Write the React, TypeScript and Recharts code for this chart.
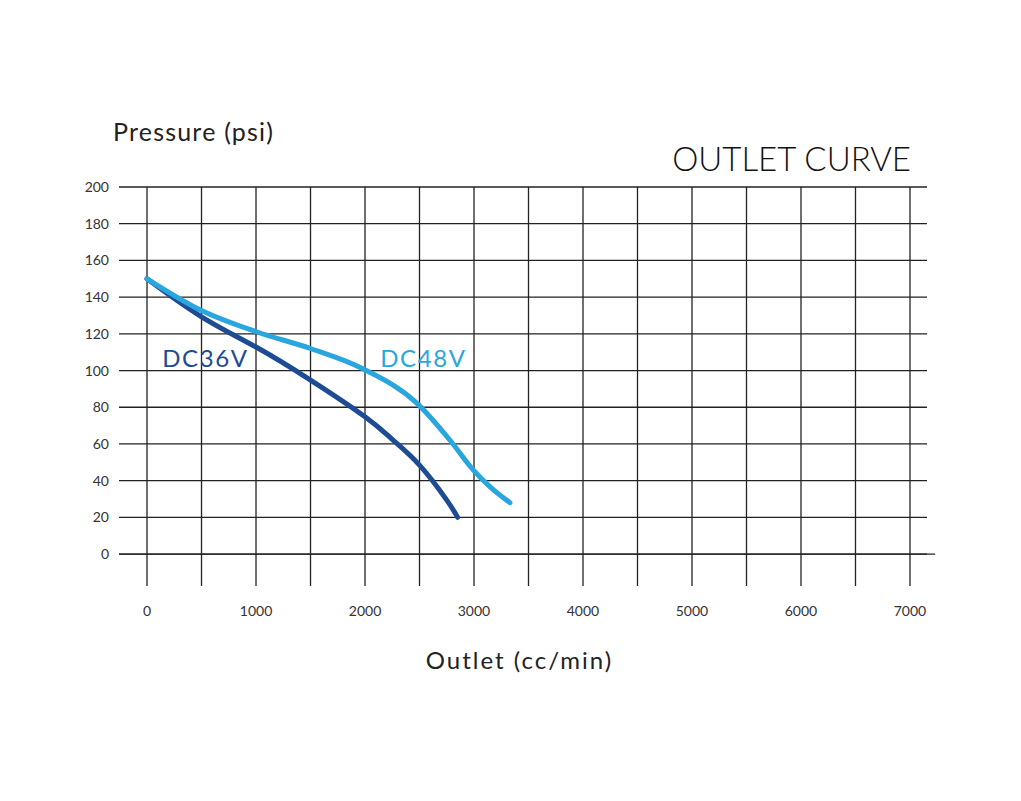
import { LineChart, Line, XAxis, YAxis, CartesianGrid, ReferenceLine, ReferenceDot } from 'recharts';

// outlet (cc/min) vs pressure (psi)
const dc36Outlet = [0, 500, 1000, 1500, 2000, 2250, 2500, 2750, 2850];
const dc36Pressure = [150, 129.3, 112.8, 94.8, 74.8, 62.5, 48.5, 29.4, 20];
const dc48Outlet = [0, 490, 1010, 1500, 1980, 2480, 2780, 2990, 3150, 3330];
const dc48Pressure = [150, 133, 121, 112, 101, 82, 62, 46, 36.5, 28];

const xTicks = [0, 500, 1000, 1500, 2000, 2500, 3000, 3500, 4000, 4500, 5000, 5500, 6000, 6500, 7000];
const yTicks = [0, 20, 40, 60, 80, 100, 120, 140, 160, 180, 200];

const dc36 = dc36Outlet.map((x, i) => ({ x, p: dc36Pressure[i] }));
const dc48 = dc48Outlet.map((x, i) => ({ x, p: dc48Pressure[i] }));

const FONT = '"Lato", "Open Sans", sans-serif';
const DARK = '#1d4b94';
const LIGHT = '#2aa6df';

function SeriesLabel({ viewBox, text, color }: any) {
  const x = viewBox?.x ?? 0;
  const y = viewBox?.y ?? 0;
  return (
    <text x={x} y={y} fill={color} fontSize={24} letterSpacing={1.6} fontFamily={FONT} dominantBaseline="middle">
      {text}
    </text>
  );
}

export default function App() {
  return (
    <div style={{ position: 'absolute', left: 0, top: 0, width: 1021, height: 801, background: '#fff', fontFamily: FONT }}>
      <div style={{ position: 'absolute', left: 113, top: 116, fontSize: 25, letterSpacing: 1.2, color: '#222', whiteSpace: 'nowrap' }}>
        Pressure (psi)
      </div>
      <div style={{ position: 'absolute', right: 110, top: 138, fontSize: 33, fontWeight: 300, color: '#111', whiteSpace: 'nowrap' }}>
        OUTLET CURVE
      </div>
      <div style={{ position: 'absolute', left: 0, width: 1039, top: 645, textAlign: 'center', fontSize: 24, letterSpacing: 2, color: '#222' }}>
        Outlet (cc/min)
      </div>
      <LineChart
        width={1021}
        height={801}
        margin={{ top: 187, right: 94, left: 59, bottom: 175 }}
        style={{ position: 'absolute', left: 0, top: 0 }}
      >
        <CartesianGrid stroke="#222" strokeWidth={1.3} syncWithTicks />
        <XAxis
          type="number"
          dataKey="x"
          domain={[-257, 7156]}
          ticks={xTicks}
          allowDataOverflow
          axisLine={false}
          tickLine={false}
          height={40}
          tickMargin={14}
          tick={{ fill: '#333', fontSize: 14, fontFamily: FONT }}
          tickFormatter={(v: number) => (v % 1000 === 0 ? String(v) : '')}
        />
        <YAxis
          type="number"
          domain={[-17.4, 200]}
          ticks={yTicks}
          allowDataOverflow
          axisLine={false}
          tickLine={false}
          width={60}
          tickMargin={4}
          tick={{ fill: '#333', fontSize: 14, fontFamily: FONT }}
        />
        <ReferenceLine
          segment={[{ x: -257, y: 0 }, { x: 7230, y: 0 }]}
          stroke="#222"
          strokeWidth={1.3}
          ifOverflow="visible"
        />
        <Line
          data={dc36}
          dataKey="p"
          type="natural"
          stroke={DARK}
          strokeWidth={5}
          strokeLinecap="round"
          dot={false}
          isAnimationActive={false}
        />
        <Line
          data={dc48}
          dataKey="p"
          type="monotone"
          stroke={LIGHT}
          strokeWidth={5}
          strokeLinecap="round"
          dot={false}
          isAnimationActive={false}
        />
        <ReferenceDot x={140} y={105.5} r={0} label={<SeriesLabel text="DC36V" color={DARK} />} />
        <ReferenceDot x={2140} y={105.5} r={0} label={<SeriesLabel text="DC48V" color={LIGHT} />} />
      </LineChart>
    </div>
  );
}
